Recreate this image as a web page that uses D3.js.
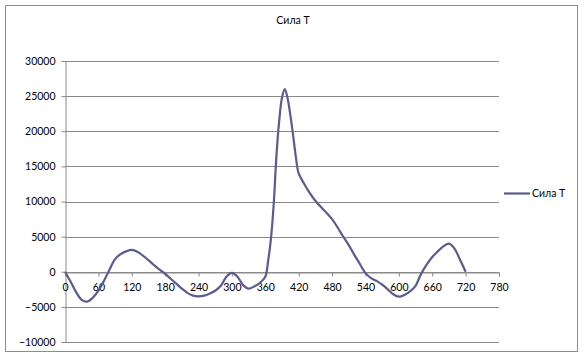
<!DOCTYPE html>
<html><head><meta charset="utf-8">
<script src="https://cdn.jsdelivr.net/npm/d3@7"></script>
<style>body{margin:0;background:#fff}svg{display:block}text{font-family:Lato,"Open Sans",sans-serif;fill:#000}</style>
</head><body>
<svg id="c" width="587" height="358"></svg>
<script>
const title = "Сила Т";
const seriesName = "Сила Т";
const angles = [0,10,20,30,40,50,60,70,80,90,100,110,120,130,140,150,160,170,180,190,200,210,220,230,240,250,260,270,280,290,300,310,320,330,340,350,360,365,370,375,380,385,390,395,400,405,410,415,420,430,440,450,460,470,480,490,500,510,520,530,540,550,560,570,580,590,600,610,620,630,640,650,660,670,680,690,700,710,720];
const forceT = [0,-1400,-2900,-4000,-4250,-3700,-2700,-1300,300,1800,2500,2900,3100,2850,2300,1650,950,300,-300,-1000,-1700,-2400,-3000,-3400,-3500,-3400,-3100,-2700,-2000,-700,-150,-700,-1900,-2400,-2100,-1600,-700,1500,4600,9500,16500,21500,24800,26000,24700,22300,19400,16300,14000,12500,11200,10100,9200,8400,7500,6300,5000,3800,2400,1100,-200,-900,-1300,-1850,-2500,-3200,-3550,-3300,-2800,-2000,-300,1000,2100,2900,3600,4000,3300,1700,0];
const xTicks = [0,60,120,180,240,300,360,420,480,540,600,660,720,780];
const yTicks = [-10000,-5000,0,5000,10000,15000,20000,25000,30000];

const svg = d3.select("#c");
svg.append("rect").attr("x",5.5).attr("y",5.5).attr("width",572).attr("height",346)
  .attr("fill","#fff").attr("stroke","#8c8c8c").attr("stroke-width",1);

const x = d3.scaleLinear().domain([0,780]).range([65,499]);
const y = d3.scaleLinear().domain([-10000,30000]).range([342,61]);

// gridlines
svg.append("g").selectAll("line").data(yTicks).join("line")
  .attr("x1",65).attr("x2",499)
  .attr("y1",d=>Math.round(y(d))+0.5).attr("y2",d=>Math.round(y(d))+0.5)
  .attr("stroke","#8a8a8a").attr("stroke-width",1);

// y axis
const yAxis = d3.axisLeft(y).tickValues(yTicks).tickSize(4).tickPadding(6).tickFormat(d3.format("d"));
const gy = svg.append("g").attr("transform","translate(65.5,0)").call(yAxis);
gy.select(".domain").attr("stroke","#8a8a8a");
gy.selectAll(".tick line").attr("stroke","#8a8a8a");
gy.selectAll("text").attr("font-size","10.5px").attr("fill","#000");

// x axis at zero
const xAxis = d3.axisBottom(x).tickValues(xTicks).tickSize(4).tickPadding(7).tickFormat(d3.format("d"));
const gx = svg.append("g").attr("transform",`translate(0,${Math.round(y(0))+0.5})`).call(xAxis);
gx.select(".domain").attr("stroke","#8a8a8a");
gx.selectAll(".tick line").attr("stroke","#8a8a8a");
gx.selectAll("text").attr("font-size","10.5px").attr("fill","#000");

// line
const line = d3.line().x((d,i)=>x(angles[i])).y(d=>y(d)).curve(d3.curveCatmullRom.alpha(0.5));
svg.append("path").datum(forceT).attr("d",line)
  .attr("fill","none").attr("stroke","#5b5b92").attr("stroke-width",2.2).attr("stroke-linejoin","round");

// title
svg.append("text").attr("x",293).attr("y",24).attr("text-anchor","middle").attr("font-size","10.5px").text(title);

// legend
svg.append("line").attr("x1",504).attr("x2",530).attr("y1",193.5).attr("y2",193.5)
  .attr("stroke","#5b5b92").attr("stroke-width",2.2);
svg.append("text").attr("x",532).attr("y",197).attr("font-size","10.5px").text(seriesName);
</script>
</body></html>
